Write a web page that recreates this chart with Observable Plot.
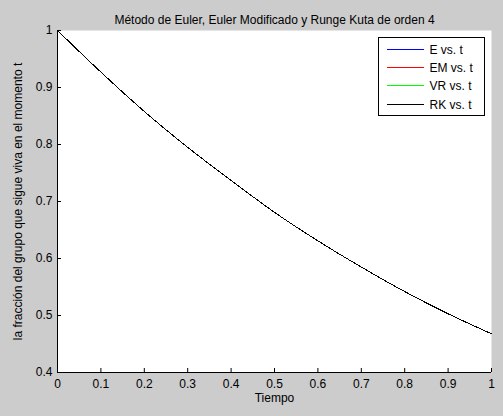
<!DOCTYPE html>
<html>
<head>
<meta charset="utf-8">
<script src="https://cdn.jsdelivr.net/npm/d3@7"></script>
<script src="https://cdn.jsdelivr.net/npm/@observablehq/plot@0.6"></script>
<style>
  html, body { margin: 0; padding: 0; background: #cccccc; }
  #chart { width: 503px; height: 416px; }
</style>
</head>
<body>
<div id="chart"></div>
<script>
// valores
const tiempo = [0, 0.1, 0.2, 0.3, 0.4, 0.5, 0.6, 0.7, 0.8, 0.9, 1]
const euler = [1, 0.927, 0.858, 0.795, 0.737, 0.681, 0.631, 0.585, 0.542, 0.503, 0.468]
const eulerMod = [1, 0.927, 0.858, 0.795, 0.737, 0.681, 0.631, 0.585, 0.542, 0.503, 0.468]
const vr = [1, 0.927, 0.858, 0.795, 0.737, 0.681, 0.631, 0.585, 0.542, 0.503, 0.468]
const rk = [1, 0.927, 0.858, 0.795, 0.737, 0.681, 0.631, 0.585, 0.542, 0.503, 0.468]

const xTicks = [0, 0.1, 0.2, 0.3, 0.4, 0.5, 0.6, 0.7, 0.8, 0.9, 1]
const yTicks = [0.4, 0.5, 0.6, 0.7, 0.8, 0.9, 1]

const series = [
  {name: "E vs. t", color: "#0000ff", values: euler},
  {name: "EM vs. t", color: "#ff0000", values: eulerMod},
  {name: "VR vs. t", color: "#00ff00", values: vr},
  {name: "RK vs. t", color: "#000000", values: rk},
]

const rows = series.flatMap(s => tiempo.map((t, i) => ({serie: s.name, t, y: s.values[i]})))

const font = "'Liberation Sans', Arial, sans-serif"

let chart = Plot.plot({
  width: 503,
  height: 416,
  marginLeft: 57,
  marginRight: 12,
  marginTop: 30,
  marginBottom: 44,
  style: {background: "#cccccc", fontFamily: font, fontSize: "12px", color: "black"},
  x: {domain: [0, 1]},
  y: {domain: [0.4, 1]},
  color: {domain: series.map(s => s.name), range: series.map(s => s.color)},
  marks: [
    Plot.frame({fill: "white", stroke: null}),
    // ticks hacia adentro, estilo MATLAB
    Plot.axisX(xTicks, {tickSize: 4, dy: -4, tickFormat: () => "", label: null}),
    Plot.axisY(yTicks, {tickSize: 4, dx: 4, tickFormat: () => "", label: null}),
    Plot.axisX(xTicks, {tickSize: 0, tickPadding: 7, tickFormat: d => String(d), label: null, fontSize: 12}),
    Plot.axisY(yTicks, {tickSize: 0, tickPadding: 5, tickFormat: d => String(d), label: null, fontSize: 12}),
    Plot.ruleY([0.4], {stroke: "black"}),
    Plot.ruleX([0], {stroke: "black"}),
    Plot.line(rows, {x: "t", y: "y", z: "serie", stroke: "serie", strokeWidth: 1,
      curve: "monotone-x", shapeRendering: "crispEdges"}),
    Plot.text(["Método de Euler, Euler Modificado y Runge Kuta de orden 4"], {
      text: d => d, frameAnchor: "top", dy: -15, fontSize: 12, fill: "black"
    }),
    Plot.text(["Tiempo"], {text: d => d, frameAnchor: "bottom", dy: 29, fontSize: 12, fill: "black"}),
    Plot.text(["la fracción del grupo que sigue viva en el momento t"], {
      text: d => d, frameAnchor: "left", textAnchor: "middle", dx: -39, rotate: -90,
      fontSize: 12, fill: "black"
    }),
  ],
})

// leyenda en recuadro, arriba a la derecha
const svg = d3.select(chart)
const leg = svg.append("g").attr("transform", "translate(378.5,37.5)")
leg.append("rect").attr("width", 106).attr("height", 78)
  .attr("fill", "white").attr("stroke", "black")
series.forEach((s, i) => {
  const yy = Math.round(11.5 + i * 18.4)
  leg.append("line").attr("x1", 8).attr("x2", 45).attr("y1", yy).attr("y2", yy)
    .attr("stroke", s.color).attr("stroke-width", 1).attr("shape-rendering", "crispEdges")
  leg.append("text").attr("x", 51).attr("y", yy).attr("dy", "0.35em")
    .attr("text-anchor", "start")
    .attr("font-family", font).attr("font-size", 12).attr("fill", "black").text(s.name)
})

d3.select("#chart").append(() => chart)
</script>
</body>
</html>
